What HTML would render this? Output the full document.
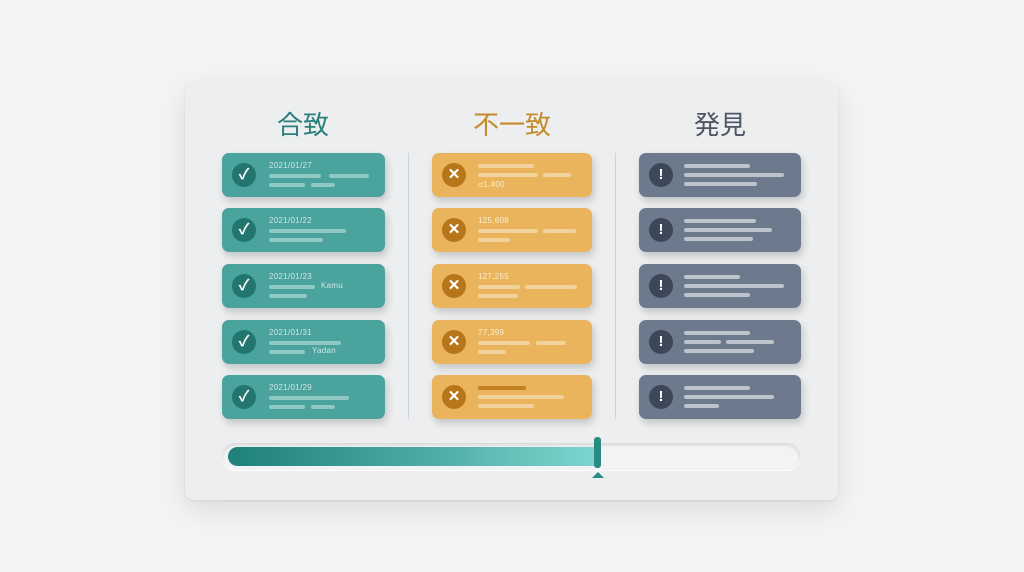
<!DOCTYPE html>
<html><head><meta charset="utf-8"><style>
body{margin:0;width:1024px;height:572px;background:#f3f4f5;position:relative;overflow:hidden;font-family:"Liberation Sans","Noto Sans CJK JP",sans-serif}
.panel{position:absolute;left:185px;top:81px;width:653px;height:419px;background:#eceef0;border-radius:8px;box-shadow:0 10px 30px rgba(0,0,0,.10),0 1px 2px rgba(0,0,0,.08)}
.h{position:absolute;top:105px;font-size:26px;width:160px;text-align:center}
.div{position:absolute;top:153px;width:1px;height:266px;background:#cfd3d7}
.c{position:absolute;height:44px;border-radius:7px;box-shadow:2px 4px 8px rgba(0,0,0,.18)}
.t{background:#4aa39c;left:222px;width:163px}
.a{background:#e9b45b;left:432px;width:160px}
.s{background:#6d7a8d;left:639px;width:162px}
.i{position:absolute;left:10px;top:10px;width:24px;height:24px;border-radius:50%;color:#fff;font-size:15px;line-height:24px;text-align:center;font-weight:bold}
.t .i{background:#23766f}.a .i{background:#b8761a}.s .i{background:#3c4758}
.b{position:absolute;height:4px;border-radius:2px;background:rgba(255,255,255,.4)}
.s .b{background:rgba(255,255,255,.55)}
.x{position:absolute;font-size:8px;color:rgba(255,255,255,.75);letter-spacing:.3px}
</style></head><body>
<div class="panel"></div>
<div class="h" style="left:223px;color:#2a7f7a">合致</div>
<div class="h" style="left:432px;color:#c48b2a">不一致</div>
<div class="h" style="left:640px;color:#4d5664">発見</div>
<div class="div" style="left:408px"></div>
<div class="div" style="left:615px"></div>

<div class="c t" style="top:153px"><div class="i">✓</div><div class="x" style="left:47px;top:8px">2021/01/27</div><div class="b" style="left:47px;top:21px;width:52px"></div><div class="b" style="left:107px;top:21px;width:40px"></div><div class="b" style="left:47px;top:30px;width:36px"></div><div class="b" style="left:89px;top:30px;width:24px"></div></div>
<div class="c t" style="top:208px"><div class="i">✓</div><div class="x" style="left:47px;top:8px">2021/01/22</div><div class="b" style="left:47px;top:21px;width:77px"></div><div class="b" style="left:47px;top:30px;width:54px"></div></div>
<div class="c t" style="top:264px"><div class="i">✓</div><div class="x" style="left:47px;top:8px">2021/01/23</div><div class="b" style="left:47px;top:21px;width:46px"></div><div class="x" style="left:99px;top:17px">Kamu</div><div class="b" style="left:47px;top:30px;width:38px"></div></div>
<div class="c t" style="top:320px"><div class="i">✓</div><div class="x" style="left:47px;top:8px">2021/01/31</div><div class="b" style="left:47px;top:21px;width:72px"></div><div class="b" style="left:47px;top:30px;width:36px"></div><div class="x" style="left:90px;top:26px">Yadan</div></div>
<div class="c t" style="top:375px"><div class="i">✓</div><div class="x" style="left:47px;top:8px">2021/01/29</div><div class="b" style="left:47px;top:21px;width:80px"></div><div class="b" style="left:47px;top:30px;width:36px"></div><div class="b" style="left:89px;top:30px;width:24px"></div></div>

<div class="c a" style="top:153px"><div class="i">✕</div><div class="b" style="left:46px;top:11px;width:56px"></div><div class="b" style="left:46px;top:20px;width:60px"></div><div class="b" style="left:111px;top:20px;width:28px"></div><div class="x" style="left:46px;top:26px">ꭤ1,400</div></div>
<div class="c a" style="top:208px"><div class="i">✕</div><div class="x" style="left:46px;top:8px">125,608</div><div class="b" style="left:46px;top:21px;width:60px"></div><div class="b" style="left:111px;top:21px;width:33px"></div><div class="b" style="left:46px;top:30px;width:32px"></div></div>
<div class="c a" style="top:264px"><div class="i">✕</div><div class="x" style="left:46px;top:8px">127,255</div><div class="b" style="left:46px;top:21px;width:42px"></div><div class="b" style="left:93px;top:21px;width:52px"></div><div class="b" style="left:46px;top:30px;width:40px"></div></div>
<div class="c a" style="top:320px"><div class="i">✕</div><div class="x" style="left:46px;top:8px">77,399</div><div class="b" style="left:46px;top:21px;width:52px"></div><div class="b" style="left:104px;top:21px;width:30px"></div><div class="b" style="left:46px;top:30px;width:28px"></div></div>
<div class="c a" style="top:375px"><div class="i">✕</div><div class="b" style="left:46px;top:11px;width:48px;background:#c17f22"></div><div class="b" style="left:46px;top:20px;width:86px"></div><div class="b" style="left:46px;top:29px;width:56px"></div></div>

<div class="c s" style="top:153px"><div class="i">!</div><div class="b" style="left:45px;top:11px;width:66px"></div><div class="b" style="left:45px;top:20px;width:100px"></div><div class="b" style="left:45px;top:29px;width:73px"></div></div>
<div class="c s" style="top:208px"><div class="i">!</div><div class="b" style="left:45px;top:11px;width:72px"></div><div class="b" style="left:45px;top:20px;width:88px"></div><div class="b" style="left:45px;top:29px;width:69px"></div></div>
<div class="c s" style="top:264px"><div class="i">!</div><div class="b" style="left:45px;top:11px;width:56px"></div><div class="b" style="left:45px;top:20px;width:100px"></div><div class="b" style="left:45px;top:29px;width:66px"></div></div>
<div class="c s" style="top:320px"><div class="i">!</div><div class="b" style="left:45px;top:11px;width:66px"></div><div class="b" style="left:45px;top:20px;width:37px"></div><div class="b" style="left:87px;top:20px;width:48px"></div><div class="b" style="left:45px;top:29px;width:70px"></div></div>
<div class="c s" style="top:375px"><div class="i">!</div><div class="b" style="left:45px;top:11px;width:66px"></div><div class="b" style="left:45px;top:20px;width:90px"></div><div class="b" style="left:45px;top:29px;width:35px"></div></div>

<div style="position:absolute;left:222px;top:443px;width:578px;height:27px;border-radius:14px;background:#f2f3f4;box-shadow:inset 0 2px 3px rgba(0,0,0,.12),0 1px 0 #fff"></div>
<div style="position:absolute;left:228px;top:447px;width:372px;height:19px;border-radius:10px 0 0 10px;background:linear-gradient(90deg,#1f7f7a,#4aa8a0 50%,#7dd6cf)"></div>
<div style="position:absolute;left:594px;top:437px;width:7px;height:31px;border-radius:3px;background:#2a8a84"></div>
<div style="position:absolute;left:592px;top:472px;width:0;height:0;border-left:6px solid transparent;border-right:6px solid transparent;border-bottom:6px solid #2a8a84"></div>
</body></html>
